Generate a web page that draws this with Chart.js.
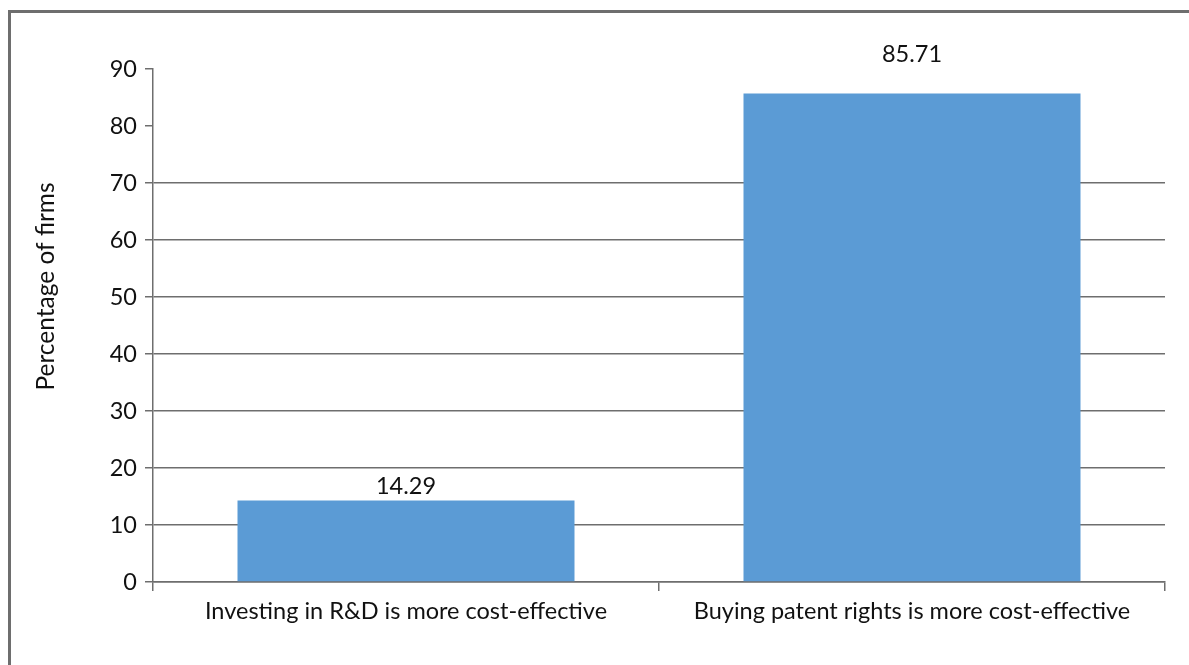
<!DOCTYPE html>
<html lang="en">
<head>
    <meta charset="UTF-8">
    <title>Percentage of firms</title>
    <script src="https://cdn.jsdelivr.net/npm/chart.js"></script>
    <style>
        body { margin: 0; background: #fff; overflow: hidden; }
        #wrap { position: relative; width: 1189px; height: 665px; }
        #frame {
            position: absolute; left: 8px; top: 10px; right: -10px; bottom: -10px;
            border-top: 3px solid #6e6e6e; border-left: 3px solid #6e6e6e;
            pointer-events: none;
        }
    </style>
</head>
<body>
<div id="wrap">
    <canvas id="chart" width="1189" height="665"></canvas>
    <div id="frame"></div>
</div>
<script>
    // data
    var categories = ['Investing in R&D is more cost-effective', 'Buying patent rights is more cost-effective'];
    var values = [14.29, 85.71];
    var yTicks = [0, 10, 20, 30, 40, 50, 60, 70, 80, 90];
    var labelLift = [14, 39];   // how far each value label sits above its bar

    var fontFamily = 'Lato, "Open Sans", sans-serif';
    var textSize = 23.5;
    var lineColor = '#6e6e6e';
    var textColor = '#111';

    // value labels above the bars
    var valueLabels = {
        id: 'valueLabels',
        afterDatasetsDraw: function(chart) {
            var ctx = chart.ctx;
            var meta = chart.getDatasetMeta(0);
            ctx.save();
            ctx.font = textSize + 'px ' + fontFamily;
            ctx.fillStyle = textColor;
            ctx.textAlign = 'center';
            ctx.textBaseline = 'middle';
            meta.data.forEach(function(bar, i) {
                ctx.fillText(values[i].toFixed(2), bar.x, bar.y - labelLift[i]);
            });
            ctx.restore();
        }
    };

    // y axis title, sits a bit higher than the middle of the plot
    var yTitle = {
        id: 'yTitle',
        afterDraw: function(chart) {
            var ctx = chart.ctx;
            var area = chart.chartArea;
            ctx.save();
            ctx.translate(46, (area.top + area.bottom) / 2 - 39);
            ctx.rotate(-Math.PI / 2);
            ctx.font = '24.5px ' + fontFamily;
            ctx.fillStyle = textColor;
            ctx.textAlign = 'center';
            ctx.textBaseline = 'middle';
            ctx.fillText('Percentage of firms', 0, 0);
            ctx.restore();
        }
    };

    new Chart(document.getElementById('chart'), {
        type: 'bar',
        data: {
            labels: categories,
            datasets: [{
                data: values,
                backgroundColor: '#5b9bd5',
                borderWidth: 0,
                barPercentage: 0.666,
                categoryPercentage: 1
            }]
        },
        options: {
            responsive: false,
            animation: false,
            layout: { padding: { left: 0, top: 69, right: 24, bottom: 0 } },
            plugins: {
                legend: { display: false },
                tooltip: { enabled: false }
            },
            scales: {
                x: {
                    offset: true,
                    grid: {
                        offset: true,
                        drawOnChartArea: false,
                        drawTicks: true,
                        tickLength: 9,
                        tickColor: lineColor,
                        lineWidth: 1.5
                    },
                    border: { display: true, color: lineColor, width: 1.5 },
                    ticks: {
                        color: textColor,
                        padding: 6,
                        maxRotation: 0,
                        font: { family: fontFamily, size: textSize }
                    },
                    afterFit: function(scale) { scale.height = 83; }
                },
                y: {
                    min: 0,
                    max: 90,
                    afterBuildTicks: function(scale) {
                        scale.ticks = yTicks.map(function(v) { return { value: v }; });
                    },
                    grid: {
                        color: function(c) {
                            return c.tick && c.tick.value > 70 ? 'rgba(0,0,0,0)' : lineColor;
                        },
                        tickColor: lineColor,
                        tickLength: 8,
                        lineWidth: 1.5
                    },
                    border: { display: true, color: lineColor, width: 1.5 },
                    ticks: {
                        color: textColor,
                        padding: 8,
                        font: { family: fontFamily, size: textSize }
                    },
                    afterFit: function(scale) { scale.width = 153; }
                }
            }
        },
        plugins: [valueLabels, yTitle]
    });
</script>
</body>
</html>
